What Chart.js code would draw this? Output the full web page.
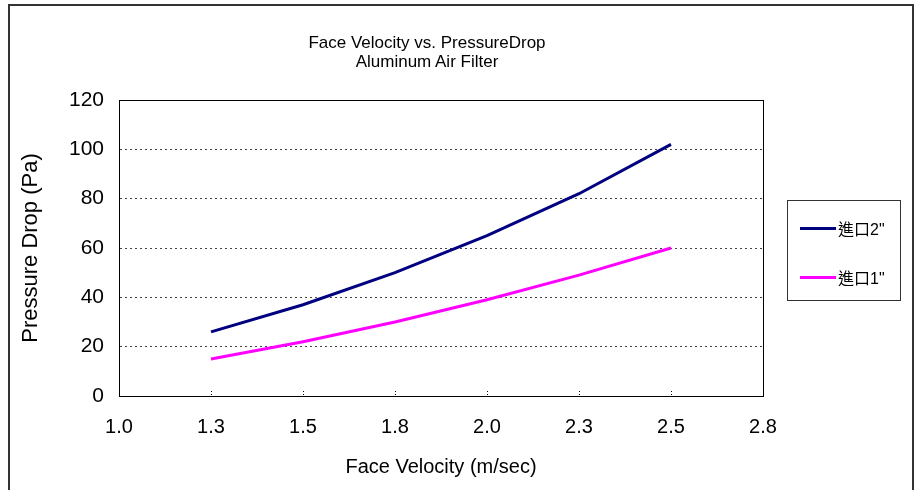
<!DOCTYPE html>
<html>
<head>
<meta charset="utf-8">
<script src="https://cdn.jsdelivr.net/npm/chart.js@4/dist/chart.umd.min.js"></script>
<style>
  html, body { margin: 0; padding: 0; background: #fff; overflow: hidden; }
  #wrap { position: relative; width: 915px; height: 490px; font-family: "Liberation Sans", Arial, sans-serif; }
  #frame { position: absolute; left: 8px; top: 4px; width: 902px; height: 520px;
           border: 2px solid #333; border-bottom: none; pointer-events: none; }
  #title { position: absolute; left: 177px; width: 500px; top: 33px; text-align: center;
           font-size: 17px; line-height: 19px; color: #000; }
  #legend { position: absolute; left: 787px; top: 200px; width: 112px; height: 99px;
            border: 1px solid #333; background: #fff; }
  .item { position: absolute; left: 12px; display: flex; align-items: center; }
  .swatch { width: 36px; height: 3px; margin-right: 2px; }
  .lbl { font-size: 16px; color: #000; font-family: "Liberation Sans", "Noto Sans CJK TC", sans-serif; }
  canvas { position: absolute; left: 0; top: 0; }
</style>
</head>
<body>
<div id="wrap">
  <canvas id="myChart" width="915" height="490"></canvas>
  <div id="frame"></div>
  <div id="title">Face Velocity vs. PressureDrop<br>Aluminum Air Filter</div>
  <div id="legend"></div>
</div>
<script>
// face velocity (m/sec)
const velocity = [1.25, 1.5, 1.75, 2.0, 2.25, 2.5]
// pressure drop (Pa)
const inlet2 = [26, 37, 50, 65, 82, 102]
const inlet1 = [15, 22, 30, 39, 49, 60]
const seriesNames = ['進口2"', '進口1"']
const seriesColors = ['#000080', '#FF00FF']

function toPoints(ys) {
    return velocity.map((x, i) => ({x: x, y: ys[i]}))
}

// box round the plot area, plus the little inner tick marks on x
const areaBox = {
    id: 'areaBox',
    afterDraw(chart) {
        const a = chart.chartArea
        const ctx = chart.ctx
        ctx.save()
        ctx.strokeStyle = '#000'
        ctx.lineWidth = 1
        ctx.strokeRect(a.left + 0.5, a.top + 0.5, a.right - a.left, a.bottom - a.top)
        const xs = chart.scales.x
        ctx.setLineDash([1, 2])
        xs.ticks.forEach(t => {
            const px = Math.round(xs.getPixelForValue(t.value)) + 0.5
            ctx.beginPath()
            ctx.moveTo(px, a.bottom - 5)
            ctx.lineTo(px, a.bottom)
            ctx.stroke()
        })
        ctx.restore()
    }
}

let ctx = document.getElementById('myChart').getContext('2d')
var chart = new Chart(ctx, {
    type: 'line',
    data: {
        datasets: [{
            label: seriesNames[0],
            data: toPoints(inlet2),
            borderColor: seriesColors[0],
            borderWidth: 3,
            pointRadius: 0,
            fill: false
        },
        {
            label: seriesNames[1],
            data: toPoints(inlet1),
            borderColor: seriesColors[1],
            borderWidth: 3,
            pointRadius: 0,
            fill: false
        }]
    },
    options: {
        responsive: false,
        animation: false,
        layout: {padding: {left: 0, top: 100, right: 152, bottom: 0}},
        elements: {line: {tension: 0}},
        plugins: {
            legend: {display: false},
            title: {display: false},
            tooltip: {enabled: false}
        },
        scales: {
            x: {
                type: 'linear',
                min: 1.0,
                max: 2.75,
                afterFit(scale) { scale.height = 94 },
                ticks: {
                    stepSize: 0.25,
                    padding: 19,
                    color: '#000',
                    font: {family: 'Liberation Sans', size: 20},
                    callback: v => (Math.round(v * 10 + 1e-6) / 10).toFixed(1)
                },
                grid: {display: false, drawTicks: false},
                border: {color: '#000', width: 1},
                title: {
                    display: true,
                    text: 'Face Velocity (m/sec)',
                    color: '#000',
                    font: {family: 'Liberation Sans', size: 20},
                    padding: {top: 4, bottom: 11}
                }
            },
            y: {
                min: 0,
                max: 120,
                afterFit(scale) { scale.width = 119 },
                ticks: {
                    stepSize: 20,
                    padding: 15,
                    color: '#000',
                    font: {family: 'Liberation Sans', size: 21}
                },
                grid: {
                    color: '#444',
                    lineWidth: 1,
                    drawTicks: false
                },
                border: {color: '#000', width: 1, dash: [2, 3]},
                title: {
                    display: true,
                    text: 'Pressure Drop (Pa)',
                    color: '#000',
                    font: {family: 'Liberation Sans', size: 22},
                    padding: {top: 18}
                }
            }
        }
    },
    plugins: [areaBox]
})

// legend box built from the datasets
const legend = document.getElementById('legend')
chart.data.datasets.forEach((ds, i) => {
    const item = document.createElement('div')
    item.className = 'item'
    item.style.top = (i === 0 ? 15 : 64) + 'px'
    item.innerHTML = '<div class="swatch" style="background:' + ds.borderColor + '"></div>' +
        '<span class="lbl">' + ds.label + '</span>'
    legend.appendChild(item)
})
</script>
</body>
</html>
